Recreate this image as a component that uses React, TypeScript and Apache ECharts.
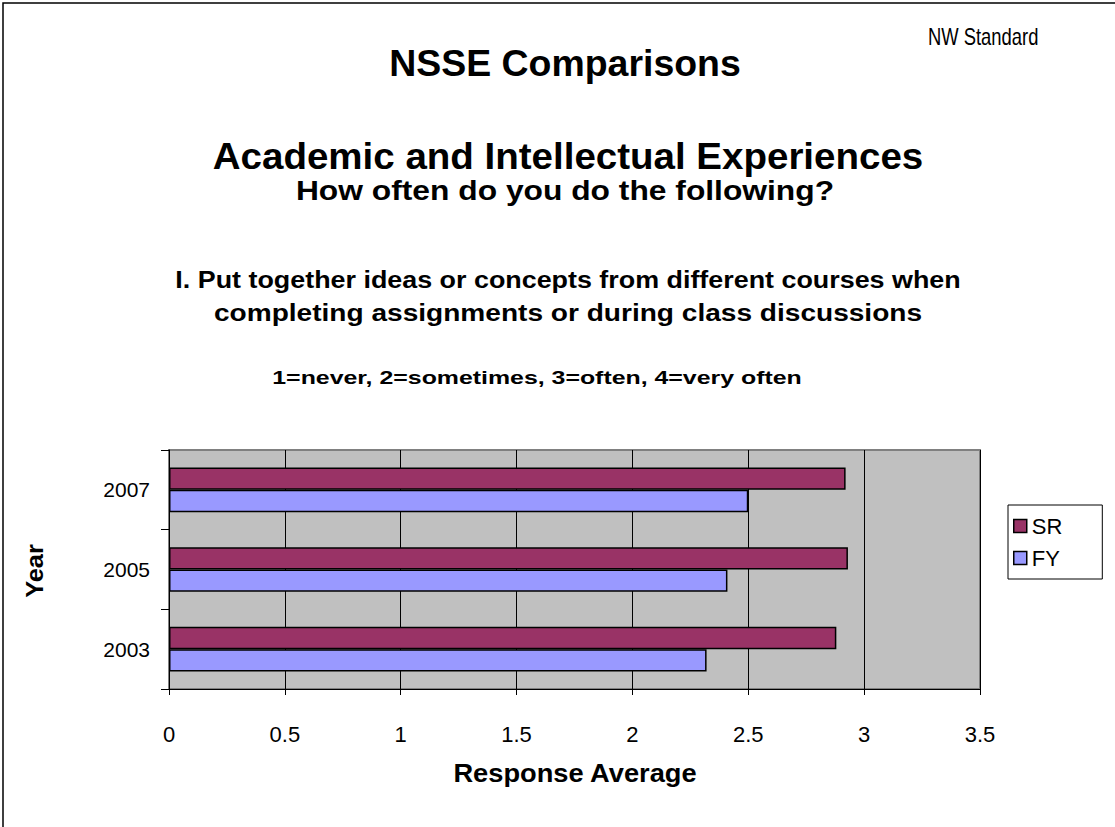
import React, { useEffect, useRef } from "react";
import * as echarts from "echarts";

const categories = ["2003", "2005", "2007"];
const srValues = [2.88, 2.93, 2.92];
const fyValues = [2.32, 2.41, 2.5];
const seriesNames = ["SR", "FY"];
const xTicks = { min: 0, max: 3.5, interval: 0.5 };

const FONT = "'Liberation Sans', Arial, sans-serif";

export default function App() {
  const ref = useRef<HTMLDivElement>(null);
  useEffect(() => {
    if (!ref.current) return;
    const chart = echarts.init(ref.current, null, { renderer: "svg" });
    const txt = (
      text: string,
      x: number,
      y: number,
      size: number,
      sx = 1,
      bold = true,
      align = "center",
      rotation = 0
    ) => ({
      type: "text",
      x,
      y,
      scaleX: sx,
      rotation,
      style: {
        text,
        fontSize: size,
        fontWeight: bold ? "bold" : "normal",
        fontFamily: FONT,
        fill: "#000",
        align,
        verticalAlign: "middle",
      },
      z: 10,
    });
    chart.setOption({
      animation: false,
      backgroundColor: "#fff",
      textStyle: { fontFamily: FONT },
      graphic: [
        {
          type: "rect",
          shape: { x: 3, y: 3, width: 1300, height: 1000 },
          style: { fill: "none", stroke: "#000", lineWidth: 1.5 },
          silent: true,
        },
        txt("NSSE Comparisons", 565, 64, 36, 1.04),
        txt("NW Standard", 928, 37, 23, 0.8, false, "left"),
        txt("Academic and Intellectual Experiences", 568, 156, 36, 1.07),
        txt("How often do you do the following?", 565, 190, 28, 1.135),
        txt("I. Put together ideas or concepts from different courses when", 568, 280, 24, 1.12),
        txt("completing assignments or during class discussions", 568, 313, 24, 1.17),
        txt("1=never, 2=sometimes, 3=often, 4=very often", 537, 378, 19, 1.31),
        txt("Response Average", 575, 773, 25, 1.09),
        txt("Year", 35, 571, 24, 1.06, true, "center", Math.PI / 2),
      ],
      legend: {
        orient: "vertical",
        left: 1008,
        top: 505,
        data: seriesNames,
        backgroundColor: "#fff",
        borderColor: "#000",
        borderWidth: 1,
        padding: [10, 40, 10, 5],
        itemGap: 10,
        itemWidth: 13,
        itemHeight: 13,
        icon: "rect",
        itemStyle: { borderColor: "#000", borderWidth: 1.5 },
        textStyle: { fontSize: 22, color: "#000", fontFamily: FONT },
      },
      grid: {
        left: 169,
        right: 135,
        top: 450,
        bottom: 138,
        show: true,
        backgroundColor: "#C0C0C0",
        borderColor: "#808080",
        borderWidth: 2,
      },
      xAxis: {
        type: "value",
        min: xTicks.min,
        max: xTicks.max,
        interval: xTicks.interval,
        axisLine: { show: true, lineStyle: { color: "#000", width: 1 } },
        axisTick: { show: true, length: 6, lineStyle: { color: "#000" } },
        axisLabel: { fontSize: 22, color: "#000", margin: 34, fontFamily: FONT },
        splitLine: { show: true, lineStyle: { color: "#000", width: 1 } },
      },
      yAxis: {
        type: "category",
        data: categories,
        axisLine: { show: true, lineStyle: { color: "#000", width: 1 } },
        axisTick: { show: true, length: 8, lineStyle: { color: "#000" } },
        axisLabel: { fontSize: 21, color: "#000", margin: 19, fontFamily: FONT },
        splitLine: { show: false },
      },
      series: [
        {
          name: seriesNames[0],
          type: "bar",
          data: srValues,
          barGap: "0%",
          barCategoryGap: "44%",
          itemStyle: { color: "#993366", borderColor: "#000", borderWidth: 1.5 },
        },
        {
          name: seriesNames[1],
          type: "bar",
          data: fyValues,
          barGap: "0%",
          barCategoryGap: "44%",
          itemStyle: { color: "#9999FF", borderColor: "#000", borderWidth: 1.5 },
        },
      ],
    });
    return () => chart.dispose();
  }, []);
  return (
    <div
      ref={ref}
      style={{ position: "absolute", left: 0, top: 0, width: 1115, height: 827 }}
    />
  );
}
